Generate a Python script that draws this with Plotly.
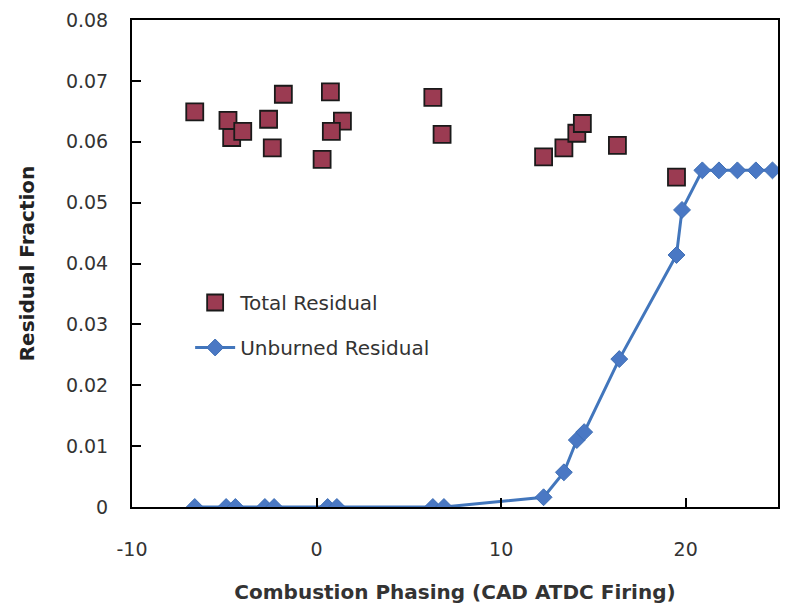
import plotly.graph_objects as go

# Total residual (squares)
total_x = [-6.6, -4.8, -4.6, -4.0, -2.6, -1.8, -2.4, 0.75, 1.4, 0.8, 0.3,
           6.3, 6.8, 12.3, 13.4, 14.1, 14.4, 16.3, 19.5]
total_y = [0.0649, 0.0635, 0.0607, 0.0617, 0.0637, 0.0678, 0.0590, 0.0682, 0.0634, 0.0617, 0.0571,
           0.0673, 0.0612, 0.0575, 0.0590, 0.0614, 0.0630, 0.0594, 0.0542]

# Unburned residual (line + diamonds)
unb_x = [-6.6, -4.9, -4.4, -2.8, -2.3, 0.6, 1.1, 6.3, 6.9, 12.3, 13.4, 14.1, 14.5, 16.4,
         19.5, 19.8, 20.9, 21.8, 22.8, 23.8, 24.7]
unb_y = [0.0, 0.0, 0.0, 0.0, 0.0, 0.0, 0.0, 0.0, 0.0, 0.0016, 0.0057, 0.0110, 0.0123, 0.0243,
         0.0414, 0.0488, 0.0553, 0.0553, 0.0553, 0.0553, 0.0553]

x_ticks = [-10, 0, 10, 20]
x_tick_text = ["-10", "0", "10", "20"]
y_ticks = [0, 0.01, 0.02, 0.03, 0.04, 0.05, 0.06, 0.07, 0.08]
y_tick_text = ["0", "0.01", "0.02", "0.03", "0.04", "0.05", "0.06", "0.07", "0.08"]

FONT = "DejaVu Sans"

fig = go.Figure()
fig.add_trace(go.Scatter(
    x=total_x, y=total_y, mode="markers", name="Total Residual",
    legendgroup="a",
    marker=dict(symbol="square", size=17, color="#9B3B52",
                line=dict(color="#1a1a1a", width=1.8)),
))
fig.add_trace(go.Scatter(
    x=unb_x, y=unb_y, mode="lines+markers", name="Unburned Residual",
    legendgroup="b",
    line=dict(color="#4276BC", width=3),
    marker=dict(symbol="diamond", size=13, color="#4A78C4",
                line=dict(color="#3F6FB5", width=1)),
))

axis_common = dict(
    showline=True, linecolor="black", linewidth=2, mirror=True,
    ticks="inside", tickcolor="black", ticklen=9, tickwidth=1.5,
    showgrid=False, zeroline=False, automargin=False,
    tickfont=dict(family=FONT, size=19, color="#333333"),
)

fig.update_layout(
    width=786, height=608,
    margin=dict(l=132, r=8, t=20, b=101),
    paper_bgcolor="white", plot_bgcolor="white",
    showlegend=True,
    legend=dict(
        x=0.09, y=0.46, xanchor="left", yanchor="top",
        bgcolor="rgba(0,0,0,0)", borderwidth=0,
        font=dict(family=FONT, size=20, color="#333333"),
        tracegroupgap=16, traceorder="grouped", itemwidth=40,
    ),
    xaxis=dict(
        range=[-10, 25], tickvals=x_ticks, ticktext=x_tick_text, ticklabelstandoff=24,
        title=dict(text="<b>Combustion Phasing (CAD ATDC Firing)</b>",
                   font=dict(family=FONT, size=20, color="#333333"), standoff=26),
        **axis_common,
    ),
    yaxis=dict(
        range=[0, 0.08], tickvals=y_ticks, ticktext=y_tick_text, ticklabelstandoff=18,
        title=dict(text="<b>Residual Fraction</b>",
                   font=dict(family=FONT, size=20, color="#222222"), standoff=26),
        **axis_common,
    ),
)

fig.write_html("out.html", config={"displayModeBar": False},
               post_script="document.body.style.margin='0';document.body.style.overflow='hidden';")
